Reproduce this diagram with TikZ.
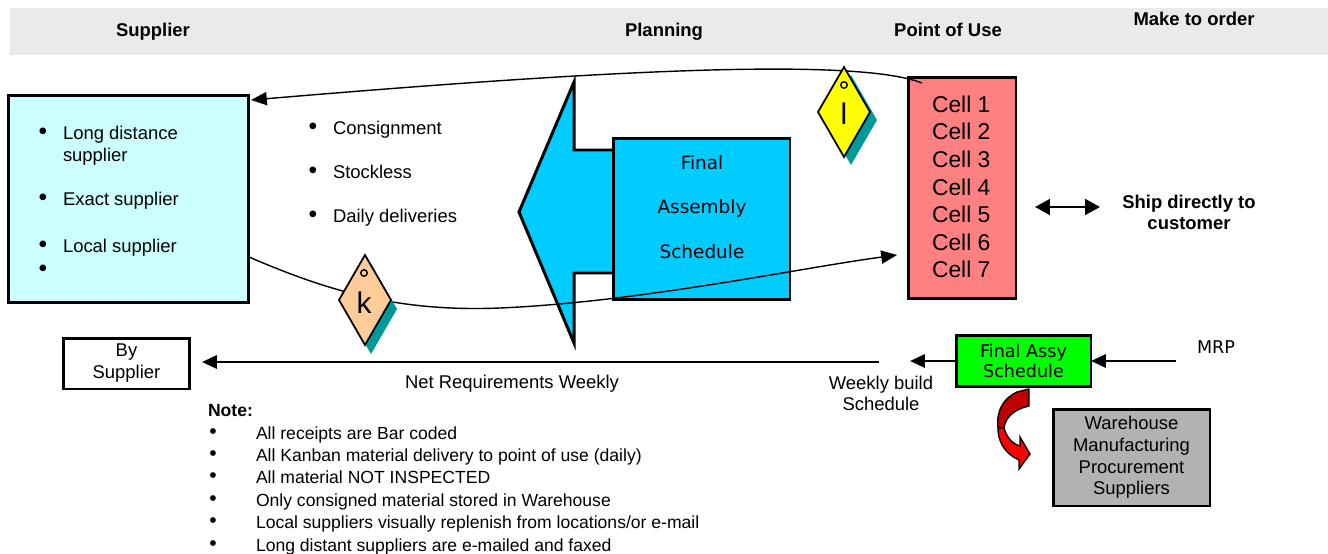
\documentclass[tikz,border=0pt]{standalone}
\usepackage{fontspec}
\setmainfont{Liberation Sans}
\newfontfamily\dvfont{DejaVu Sans}
\usetikzlibrary{arrows.meta}
\definecolor{hdrgray}{HTML}{EAEAEA}
\definecolor{supcyan}{HTML}{CCFFFF}
\definecolor{fasblue}{HTML}{00CCFF}
\definecolor{cellred}{HTML}{FF8080}
\definecolor{assygreen}{HTML}{00FF00}
\definecolor{whgray}{HTML}{B2B2B2}
\definecolor{kpeach}{HTML}{FFCC99}
\definecolor{lyellow}{HTML}{FFFF00}
\definecolor{tealshadow}{HTML}{009999}
\definecolor{darkred}{HTML}{C00000}
\definecolor{brightred}{HTML}{FF0000}
\begin{document}
\begin{tikzpicture}[x=0.02cm,y=-0.02cm,
  every node/.style={inner sep=0pt, outer sep=0pt},
  lbl/.style={font=\fontsize{10.5}{12.6}\selectfont, text height=7.5pt, text depth=0pt},
  lblw/.style={lbl, anchor=west},
  bul/.style={font=\fontsize{14}{14}\selectfont},
  hdr/.style={font=\fontsize{10.5}{12.6}\selectfont\bfseries, text height=7.5pt, text depth=0pt},
  notew/.style={font=\fontsize{10}{12}\selectfont, text height=7.2pt, text depth=0pt, anchor=west},
  notebul/.style={font=\fontsize{12}{12}\selectfont},
  thickbox/.style={draw, line width=1.7pt},
  flowarrow/.style={line width=1.5pt, -{Triangle[length=8.5pt,width=7.5pt]}},
  thincurve/.style={line width=0.8pt, -{Triangle[length=9pt,width=7.5pt]}},
  kanbanline/.style={draw, line width=1pt, line join=miter},
  kletter/.style={font=\fontsize{17}{20}\selectfont},
]
\useasboundingbox (0,0) rectangle (1328,554);
% header band
\fill[hdrgray] (10,8) rectangle (1328,55);
\node[hdr] (hSup) at (153,30) {Supplier};
\node[hdr] (hPlan) at (664,30) {Planning};
\node[hdr] (hPou) at (948,30) {Point of Use};
\node[hdr] (hMto) at (1194,19) {Make to order};

% supplier box
\node[thickbox, fill=supcyan, minimum width=4.82cm, minimum height=4.16cm] (supbox) at (128.5,199) {};
\node[bul] (sb1) at (43,134) {•};
\node[lblw] (st1) at (63,133) {Long distance};
\node[lblw] (st1b) at (63,155) {supplier};
\node[bul] (sb2) at (43,200) {•};
\node[lblw] (st2) at (63,199) {Exact supplier};
\node[bul] (sb3) at (43,247) {•};
\node[lblw] (st3) at (63,246) {Local supplier};
\node[bul] (sb4) at (43,271) {•};

% middle bullets
\node[bul] (mb1) at (313,129) {•};
\node[lblw] (mt1) at (333,128) {Consignment};
\node[bul] (mb2) at (313,173) {•};
\node[lblw] (mt2) at (333,172) {Stockless};
\node[bul] (mb3) at (313,217) {•};
\node[lblw] (mt3) at (333,216) {Daily deliveries};

% big blue arrow and final assembly schedule box
\draw[line width=1.7pt, fill=fasblue, line join=miter] (519,212) -- (574,82) -- (574,150) -- (660,150) -- (660,273) -- (574,273) -- (574,343) -- cycle;
\node[thickbox, fill=fasblue, minimum width=3.54cm, minimum height=3.24cm] (fas) at (701.5,219) {};
\node[font=\dvfont\fontsize{10.5}{25.5}\selectfont, align=center] (fastxt) at (702,207) {Final\\Assembly\\Schedule};

% cells
\node[thickbox, fill=cellred, minimum width=2.16cm, minimum height=4.42cm] (cells) at (962,188) {};
\node[font=\fontsize{13}{15.7}\selectfont, align=left, anchor=west] (celltxt) at (932,187) {Cell 1\\Cell 2\\Cell 3\\Cell 4\\Cell 5\\Cell 6\\Cell 7};

% ship directly
\coordinate (shipL) at (1035,207);
\coordinate (shipR) at (1100,207);
\draw[line width=1.2pt, {Triangle[length=8.5pt,width=9pt]}-{Triangle[length=8.5pt,width=9pt]}] (shipL) -- (shipR);
\node[font=\fontsize{10.5}{11.9}\selectfont\bfseries, align=center] (ship) at (1189,212) {Ship directly to\\customer};

% curves
\coordinate (topStart) at (922,83);
\coordinate (topEnd) at (251,100);
\draw[thincurve] (topStart) .. controls (850,55) and (560,74) .. (topEnd);
\coordinate (botStart) at (249,257);
\coordinate (botMid) at (500,308);
\coordinate (botEnd) at (897,255);
\draw[thincurve] (botStart) .. controls (330,292) and (400,312) .. (botMid) .. controls (640,302) and (800,268) .. (botEnd);

% kanban k
\fill[tealshadow] (371,264) -- (397,309) -- (371,354) -- (345,309) -- cycle;
\path[kanbanline, fill=kpeach] (365,255) -- (391,300) -- (365,345) -- (339,300) -- cycle;
\draw[line width=0.8pt] (364,273) circle[radius=0.065cm];
\node[kletter] (kk) at (364,303) {k};

% kanban l
\fill[tealshadow] (851,75) -- (877,120) -- (851,165) -- (825,120) -- cycle;
\path[kanbanline, fill=lyellow] (844,67) -- (870,112) -- (844,157) -- (818,112) -- cycle;
\draw[line width=0.8pt] (844,85) circle[radius=0.065cm];
\node[kletter] (kl) at (844,114) {l};

% bottom flow
\node[thickbox, fill=white, minimum width=2.54cm, minimum height=1.02cm, align=center, font=\fontsize{10.5}{12.5}\selectfont] (bysup) at (126.5,363.5) {By\\Supplier};
\coordinate (nrStart) at (879,362);
\coordinate (nrEnd) at (202,362);
\draw[flowarrow] (nrStart) -- (nrEnd);
\node[lblw] (nrtxt) at (405,382) {Net Requirements Weekly};

\node[thickbox, fill=assygreen, minimum width=2.7cm, minimum height=1.02cm, align=center, font=\dvfont\fontsize{10}{11.3}\selectfont] (assy) at (1023.5,361) {Final Assy\\Schedule};
\coordinate (wbsEnd) at (910,361);
\draw[flowarrow] (assy.west) -- (wbsEnd);
\coordinate (mrpStart) at (1176,361);
\draw[flowarrow] (mrpStart) -- (assy.east);
\node[font=\dvfont\fontsize{10}{12}\selectfont, anchor=west] (mrp) at (1197,347) {MRP};
\node[align=center, font=\fontsize{10.5}{11.9}\selectfont] (wbs) at (881,393) {Weekly build\\Schedule};

\node[thickbox, fill=whgray, minimum width=3.14cm, minimum height=1.94cm, align=center, font=\fontsize{10.5}{12.3}\selectfont] (wh) at (1131.5,457.5) {Warehouse\\Manufacturing\\Procurement\\Suppliers};

% red curved arrow
\path[draw, line width=0.8pt, fill=darkred, line join=round] (1017,392) -- (1029,389) -- (1029,406) .. controls (1014,409) and (1005,418) .. (1004,428) -- (998,428) .. controls (996,410) and (1004,398) .. (1017,392) -- cycle;
\path[draw, line width=0.8pt, fill=brightred, line join=miter] (998,428) .. controls (998,445) and (1008,455) .. (1019,460) -- (1019,469) -- (1030,454) -- (1020,437) -- (1020,446) .. controls (1012,444) and (1006,436) .. (1004,428) -- cycle;

% notes
\node[notew, font=\fontsize{10}{12}\selectfont\bfseries] (noteh) at (208,410) {Note:};
\node[notebul] (nb1) at (213,434) {•};
\node[notew] (nt1) at (256,433) {All receipts are Bar coded};
\node[notebul] (nb2) at (213,456) {•};
\node[notew] (nt2) at (256,455) {All Kanban material delivery to point of use (daily)};
\node[notebul] (nb3) at (213,478) {•};
\node[notew] (nt3) at (256,477) {All material NOT INSPECTED};
\node[notebul] (nb4) at (213,501) {•};
\node[notew] (nt4) at (256,500) {Only consigned material stored in Warehouse};
\node[notebul] (nb5) at (213,523) {•};
\node[notew] (nt5) at (256,522) {Local suppliers visually replenish from locations/or e-mail};
\node[notebul] (nb6) at (213,546) {•};
\node[notew] (nt6) at (256,545) {Long distant suppliers are e-mailed and faxed};
\end{tikzpicture}
\end{document}
